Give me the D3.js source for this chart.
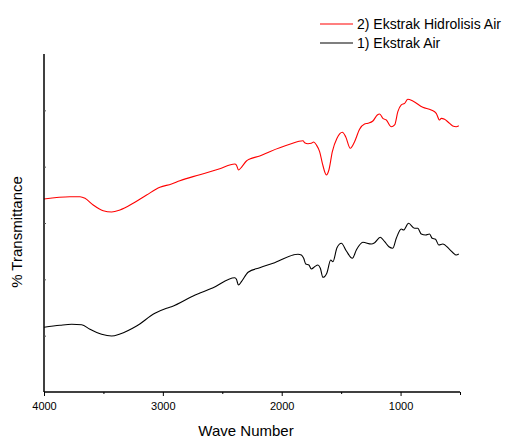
<!DOCTYPE html>
<html>
<head>
<meta charset="utf-8">
<script src="https://cdn.jsdelivr.net/npm/d3@7"></script>
<style>
  body { margin: 0; background: #fff; }
  text { font-family: "Liberation Sans", Arial, sans-serif; fill: #000; }
</style>
</head>
<body>
<script>
// FTIR spectra (wavenumber cm-1, transmittance in arbitrary units)
let redWave = [4000, 3782, 3697, 3655, 3586, 3502, 3431, 3361, 3250, 3137, 3025, 2927, 2857, 2689, 2521,
  2395, 2381, 2364, 2339, 2297, 2269, 2185, 2101, 1933, 1821, 1807, 1779, 1751, 1731, 1708, 1681, 1658,
  1624, 1603, 1574, 1535, 1490, 1462, 1423, 1387, 1345, 1303, 1275, 1233, 1196, 1176, 1149, 1120, 1078,
  1050, 1023, 994, 966, 939, 897, 813, 742, 700, 672, 658, 630, 603, 561, 532, 510];
let redT = [34.26, 34.67, 34.67, 34.38, 33.19, 32.18, 31.95, 32.31, 33.50, 34.97, 36.34, 36.92, 37.51, 38.57, 39.64,
  40.47, 40.29, 39.41, 39.89, 41.00, 41.36, 41.89, 42.66, 43.97, 44.61, 44.25, 44.08, 44.15, 44.38, 43.84, 42.66, 40.60,
  38.52, 39.41, 42.66, 45.03, 46.10, 45.32, 43.26, 44.43, 46.63, 47.57, 47.70, 48.11, 49.17, 49.35, 48.58, 48.28, 47.09,
  47.40, 49.76, 50.95, 51.25, 51.96, 51.66, 50.54, 50.06, 49.47, 48.28, 48.58, 48.41, 47.98, 47.22, 47.09, 47.27];

let blackWave = [4000, 3866, 3767, 3683, 3613, 3515, 3431, 3361, 3221, 3067, 2969, 2927, 2745, 2577, 2395,
  2381, 2364, 2339, 2283, 2185, 2073, 1863, 1835, 1815, 1798, 1771, 1751, 1723, 1695, 1675, 1653, 1619,
  1588, 1569, 1535, 1498, 1456, 1406, 1372, 1317, 1246, 1218, 1171, 1134, 1098, 1065, 1036, 994, 975,
  933, 882, 855, 826, 790, 756, 734, 706, 678, 645, 588, 532, 510];
let blackT = [11.48, 11.84, 12.02, 11.95, 11.13, 10.24, 9.94, 10.30, 11.72, 13.97, 14.86, 15.14, 17.04, 18.51, 20.29,
  20.01, 18.99, 19.58, 21.25, 22.06, 22.85, 24.44, 24.32, 23.73, 22.72, 22.54, 21.83, 22.24, 22.54, 21.96, 20.36, 21.18,
  23.43, 23.13, 25.61, 26.40, 25.03, 23.73, 25.21, 26.57, 26.27, 26.50, 27.46, 26.68, 25.79, 25.51, 27.28, 28.93, 28.76,
  29.95, 29.06, 29.06, 28.05, 27.87, 28.05, 27.28, 27.11, 26.09, 26.27, 25.33, 24.32, 24.50];

let xTicks = [4000, 3000, 2000, 1000];
let xMinor = [3500, 2500, 1500, 500];
let yTicks = [10, 20, 30, 40, 50];

let seriesNames = ["2) Ekstrak Hidrolisis Air", "1) Ekstrak Air"];
let seriesColors = ["#ff0000", "#000000"];

let w = 513;
let h = 438;
let padL = 44, padR = 460, padT = 54, padB = 392;

let svg = d3.select('body').append('svg').attr('width', w).attr('height', h);

let xScale = d3.scaleLinear().domain([4000, 500]).range([padL, padR]);
let yScale = d3.scaleLinear().domain([0, 60]).range([padB, padT]);

let line = d3.line()
  .x((d) => xScale(d[0]))
  .y((d) => yScale(d[1]))
  .curve(d3.curveMonotoneX);

let redData = redWave.map((v, i) => [v, redT[i]]);
let blackData = blackWave.map((v, i) => [v, blackT[i]]);

svg.append('path').datum(blackData)
  .attr('d', line)
  .style('fill', 'none').style('stroke', seriesColors[1]).style('stroke-width', 1.1);
svg.append('path').datum(redData)
  .attr('d', line)
  .style('fill', 'none').style('stroke', seriesColors[0]).style('stroke-width', 1.1);

// x axis with major labels and small minor ticks
let xAxis = d3.axisBottom(xScale).tickValues(xTicks).tickSize(4).tickPadding(6).tickFormat(d3.format('d'));
let xAxisGroup = svg.append('g').attr('transform', `translate(0, ${padB})`).call(xAxis);
xAxisGroup.select('.domain').attr('d', `M${padL},0H${padR}`).style('stroke-width', 1.5);
xAxisGroup.selectAll('text').style('font-size', '11px');

let xMinorAxis = d3.axisBottom(xScale).tickValues(xMinor).tickSize(2).tickFormat('');
let xMinorGroup = svg.append('g').attr('transform', `translate(0, ${padB})`).call(xMinorAxis);
xMinorGroup.select('.domain').remove();
// the tick at 500 sits at the axis end and is a bit longer
xMinorGroup.selectAll('line').filter((d) => d === 500).attr('y2', 3);

// y axis: no labels, tiny inward ticks
let yAxis = d3.axisRight(yScale).tickValues(yTicks).tickSize(2).tickFormat('');
let yAxisGroup = svg.append('g').attr('transform', `translate(${padL}, 0)`).call(yAxis);
yAxisGroup.select('.domain').attr('d', `M0,${padT}V${padB}`).style('stroke-width', 1.5);
yAxisGroup.selectAll('line').style('stroke', '#555');

// axis titles
svg.append('text')
  .attr('x', (padL + padR) / 2 - 6).attr('y', 436)
  .attr('text-anchor', 'middle').style('font-size', '15px')
  .text('Wave Number');
svg.append('text')
  .attr('transform', `translate(22, ${(padT + padB) / 2 + 9}) rotate(-90)`)
  .attr('text-anchor', 'middle').style('font-size', '15px')
  .text('% Transmittance');

// legend
let legend = svg.append('g').attr('transform', 'translate(320, 24)');
seriesNames.forEach((name, i) => {
  let g = legend.append('g').attr('transform', `translate(0, ${i * 19})`);
  g.append('line').attr('x1', 0).attr('x2', 33).attr('y1', 0).attr('y2', 0)
    .style('stroke', seriesColors[i]).style('stroke-width', 1.2);
  g.append('text').attr('x', 37).attr('y', 5).style('font-size', '14px').text(name);
});
</script>
</body>
</html>
